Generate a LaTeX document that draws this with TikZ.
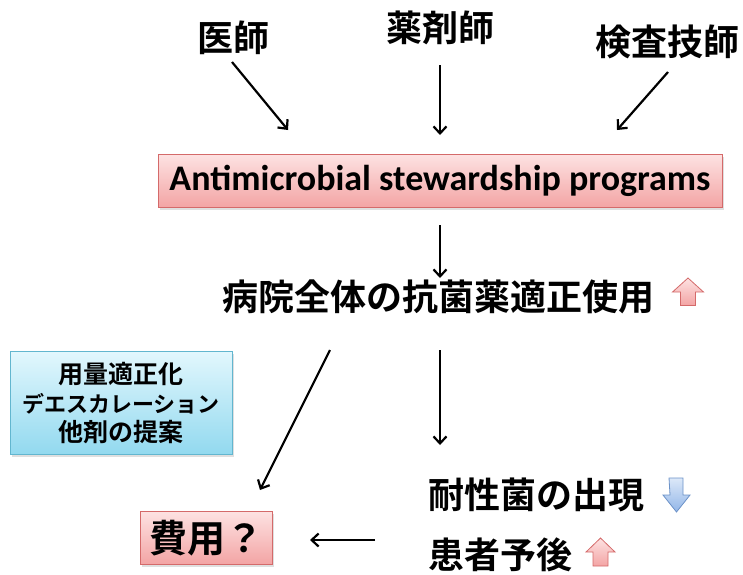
\documentclass[tikz,border=0pt]{standalone}
\usepackage{fontspec}
\newfontfamily\cjk{Noto Sans CJK JP}[BoldFont={* Bold}]
\newfontfamily\lat{Carlito}[BoldFont={* Bold}]
\usetikzlibrary{arrows.meta,shadows}
\definecolor{pinkT}{HTML}{FDE2E2}
\definecolor{pinkB}{HTML}{F3A4A4}
\definecolor{pinkD}{HTML}{D46A6A}
\definecolor{blueT}{HTML}{E2F7FD}
\definecolor{blueB}{HTML}{92D9EF}
\definecolor{blueD}{HTML}{62B6CF}
\definecolor{dblueT}{HTML}{DCE8F8}
\definecolor{dblueB}{HTML}{92B6E8}
\definecolor{dblueD}{HTML}{6C92C8}
\tikzset{
  conn/.style={line width=2.2pt, -{Straight Barb[length=7pt,width=13pt,line width=2.2pt]}},
  jtext/.style={font=\cjk\bfseries\fontsize{36}{42}\selectfont, inner sep=0pt},
  pinkbox/.style={draw=pinkD, line width=1pt, top color=pinkT, bottom color=pinkB,
     drop shadow={opacity=0.25, shadow xshift=1.5pt, shadow yshift=-2pt}},
  bluebox/.style={draw=blueD, line width=1pt, top color=blueT, bottom color=blueB,
     drop shadow={opacity=0.25, shadow xshift=1.5pt, shadow yshift=-2pt}},
  pinkarrow/.style={draw=pinkD, line width=0.8pt, top color=pinkT, bottom color=pinkB},
  bluearrow/.style={draw=dblueD, line width=0.8pt, top color=dblueT, bottom color=dblueB},
}
\begin{document}
\begin{tikzpicture}[x=1pt,y=-1pt]
\useasboundingbox (0,0) rectangle (743,574);
% top labels
\node[jtext] (ishi) at (233,38) {医師};
\node[jtext] (yaku) at (440,28) {薬剤師};
\node[jtext] (kensa) at (667,42) {検査技師};
% ASP box
\node[pinkbox, minimum width=564pt, minimum height=53pt, inner sep=0pt] (asp) at (440,181)
  {\lat\bfseries\fontsize{36}{40}\selectfont Antimicrobial stewardship programs};
% middle text
\node[jtext] (tekisei) at (438,297) {病院全体の抗菌薬適正使用};
% blue box
\node[bluebox, minimum width=222pt, minimum height=103pt, inner sep=0pt, align=center,
  font=\cjk\bfseries\fontsize{25}{29}\selectfont] (teian) at (121,403)
  {用量適正化\\{\fontsize{22}{29}\selectfont デエスカレーション}\\他剤の提案};
% bottom right texts
\node[jtext, anchor=west] (taisei) at (428,495) {耐性菌の出現};
\node[jtext, anchor=west] (kanja) at (428,555) {患者予後};
% cost box
\node[pinkbox, minimum width=132pt, minimum height=53pt, inner sep=0pt,
  font=\cjk\bfseries\fontsize{38}{42}\selectfont] (hiyou) at (206,538) {費用？};
% block arrows
\path[pinkarrow] (680.5,305.5) -- (680.5,292) -- (672.5,292) -- (688,278) -- (703.5,292) -- (695.5,292) -- (695.5,305.5) -- cycle;
\path[bluearrow] (669,478) -- (683,478) -- (683,495) -- (690,495) -- (676.5,512) -- (663,495) -- (670,495) -- cycle;
\path[pinkarrow] (593,566) -- (593,552) -- (586,552) -- (600.5,538) -- (615,552) -- (608,552) -- (608,566) -- cycle;
% connector end coordinates
\coordinate (c1) at (288,130);
\coordinate (c2) at (440,135);
\coordinate (c3) at (617,130);
\coordinate (c4) at (440,278);
\coordinate (c5a) at (330,350);
\coordinate (c5b) at (260,490);
\coordinate (c6a) at (440,350);
\coordinate (c6b) at (440,445);
\coordinate (c7a) at (375,540);
\coordinate (c7b) at (310,540);
\coordinate (s1) at (232,62);
\coordinate (s2) at (440,65);
\coordinate (s3) at (668,72);
\coordinate (s4) at (440,225);
\draw[conn] (s1) -- (c1);
\draw[conn] (s2) -- (c2);
\draw[conn] (s3) -- (c3);
\draw[conn] (s4) -- (c4);
\draw[conn] (c5a) -- (c5b);
\draw[conn] (c6a) -- (c6b);
\draw[conn] (c7a) -- (c7b);
\end{tikzpicture}
\end{document}
